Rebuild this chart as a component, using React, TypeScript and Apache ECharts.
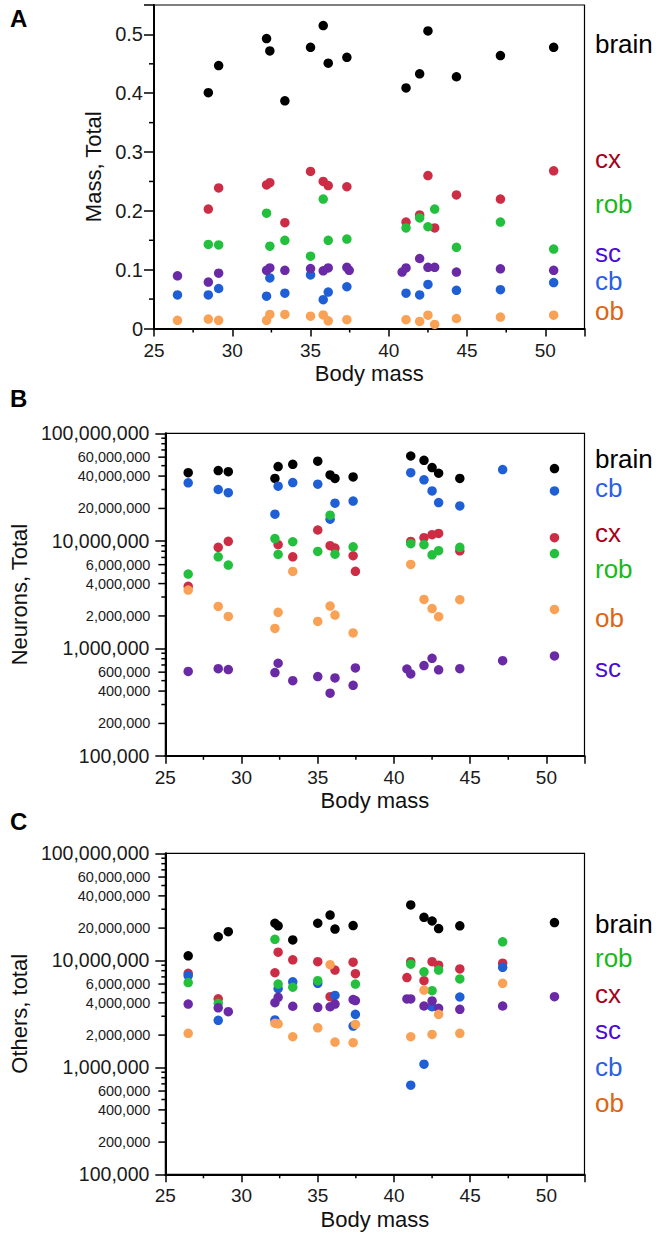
import React, { useEffect, useRef } from "react";
import * as echarts from "echarts";

// ---------- data ----------
const bodyMass = [26.5, 28.47, 29.13, 32.19, 32.4, 33.36, 35.0, 35.81, 36.13, 37.32, 37.47, 40.85, 41.1, 41.97, 42.5, 42.93, 44.32, 47.13, 50.53];

// Panel A: mass, total
const massBrain = [null, 0.401, 0.447, 0.493, 0.472, 0.387, 0.478, 0.515, 0.451, 0.461, null, null, 0.409, 0.433, 0.506, null, 0.428, 0.464, 0.478];
const massCx = [null, 0.203, 0.239, 0.244, 0.248, 0.18, 0.267, 0.25, 0.243, 0.241, null, null, 0.181, 0.193, 0.26, 0.171, 0.227, 0.22, 0.268];
const massRob = [null, 0.143, 0.142, 0.196, 0.14, 0.15, 0.123, 0.22, 0.15, 0.152, null, null, 0.171, 0.188, 0.173, 0.203, 0.138, 0.181, 0.135];
const massSc = [0.0896, 0.079, 0.094, 0.099, 0.103, 0.099, 0.102, 0.098, 0.103, 0.104, 0.099, 0.096, 0.103, 0.119, 0.104, 0.104, 0.096, 0.1015, 0.099];
const massCb = [0.057, 0.057, 0.068, 0.055, 0.086, 0.06, 0.091, 0.049, 0.062, 0.071, null, null, 0.06, 0.057, 0.075, null, 0.065, 0.066, 0.078];
const massOb = [0.014, 0.016, 0.014, 0.014, 0.024, 0.024, 0.021, 0.023, 0.013, 0.015, null, null, 0.015, 0.012, 0.0227, 0.007, 0.017, 0.0195, 0.0227];

// Panel B: neurons, total
const neuBrain = [4.3e7, 4.5e7, 4.4e7, 3.8e7, 4.9e7, 5.15e7, 5.5e7, 4.1e7, 3.8e7, 3.93e7, null, null, 6.15e7, 5.6e7, 4.8e7, 4.25e7, 3.8e7, null, 4.7e7];
const neuCb = [3.46e7, 3.0e7, 2.8e7, 1.77e7, 3.22e7, 3.48e7, 3.36e7, 1.59e7, 2.24e7, 2.34e7, null, null, 4.3e7, 3.69e7, 2.91e7, 2.27e7, 2.11e7, 4.6e7, 2.91e7];
const neuCx = [3.77e6, 8.7e6, 9.9e6, null, 9.2e6, 7.1e6, 1.26e7, 9.0e6, 8.55e6, 7.26e6, 5.2e6, null, 9.86e6, 1.07e7, 1.14e7, 1.17e7, 8.07e6, null, 1.07e7];
const neuRob = [4.9e6, 7.1e6, 5.94e6, 1.05e7, 7.47e6, 9.8e6, 7.96e6, 1.73e7, 7.5e6, 8.8e6, null, null, 9.4e6, 9.2e6, 7.4e6, 8.1e6, 8.7e6, null, 7.6e6];
const neuOb = [3.48e6, 2.45e6, 1.98e6, 1.53e6, 2.16e6, 5.19e6, 1.78e6, 2.47e6, 2.04e6, 1.39e6, null, null, 6.03e6, 2.85e6, 2.34e6, 1.97e6, 2.83e6, null, 2.3e6];
const neuSc = [6.1e5, 6.47e5, 6.34e5, 5.94e5, 7.26e5, 5.0e5, 5.46e5, 3.82e5, 5.3e5, 4.53e5, 6.56e5, 6.42e5, 5.78e5, 6.9e5, 8.07e5, 6.3e5, 6.47e5, 7.67e5, 8.5e5];

// Panel C: others, total
const othBrain = [1.1e7, 1.66e7, 1.85e7, 2.22e7, 2.1e7, 1.55e7, 2.22e7, 2.65e7, 1.96e7, 2.11e7, null, null, 3.29e7, 2.52e7, 2.33e7, 1.98e7, 2.1e7, null, 2.25e7];
const othRob = [6.2e6, 3.96e6, null, 1.57e7, 6.0e6, 5.6e6, 6.45e6, null, null, null, 6.0e6, null, 9.2e6, 7.8e6, 5.2e6, 8.1e6, 6.7e6, 1.49e7, null];
const othCx = [7.56e6, 4.37e6, null, 7.65e6, 1.19e7, 1.01e7, 9.7e6, 4.57e6, 8.1e6, 9.6e6, 7.5e6, 6.9e6, 9.7e6, 6.45e6, 9.7e6, 9.0e6, 8.3e6, 9.4e6, null];
const othSc = [3.9e6, 3.6e6, 3.31e6, 4.02e6, 4.51e6, 3.72e6, 3.64e6, 3.68e6, 3.9e6, 4.3e6, 4.2e6, 4.35e6, 4.35e6, 3.74e6, 4.17e6, 3.56e6, 3.48e6, 3.74e6, 4.57e6];
const othCb = [7.2e6, 2.75e6, null, 2.77e6, 5.43e6, 6.3e6, 6.1e6, null, 4.7e6, 2.43e6, 3.13e6, null, 6.8e5, 1.07e6, 3.68e6, null, 4.54e6, 8.6e6, null];
const othOb = [2.08e6, null, null, 2.58e6, 2.55e6, 1.93e6, 2.34e6, 9.1e6, 1.72e6, 1.7e6, 2.52e6, null, 1.93e6, 5.27e6, 2.03e6, 3.13e6, 2.08e6, 6.1e6, null];

// ticks
const bodyMinorTicks = [27.5, 32.5, 37.5, 42.5, 47.5];
const massMinorTicks = [0.05, 0.15, 0.25, 0.35, 0.45];
const logMinorTicks = [2e5, 3e5, 4e5, 5e5, 6e5, 7e5, 8e5, 9e5, 2e6, 3e6, 4e6, 5e6, 6e6, 7e6, 8e6, 9e6, 2e7, 3e7, 4e7, 5e7, 6e7, 7e7, 8e7, 9e7];
const logLabeledMinor = [2e5, 4e5, 6e5, 2e6, 4e6, 6e6, 2e7, 4e7, 6e7];

const panelLetters = ["A", "B", "C"];
const yTitles = ["Mass, Total", "Neurons, Total", "Others, total"];
const xTitle = "Body mass";

// right-hand labels (text order per panel)
const labelsA = ["brain", "cx", "rob", "sc", "cb", "ob"];
const labelsB = ["brain", "cb", "cx", "rob", "ob", "sc"];
const labelsC = ["brain", "rob", "cx", "sc", "cb", "ob"];

// ---------- styles ----------
const FONT = '"Liberation Sans", Arial, Helvetica, sans-serif';
const dotColor: Record<string, string> = {
  brain: "#000000",
  cx: "#cc2d45",
  rob: "#22c03c",
  sc: "#6a2aa6",
  cb: "#1f5fd6",
  ob: "#f9a154",
};
const labelColor: Record<string, string> = {
  brain: "#000000",
  cx: "#a8001a",
  rob: "#18b81c",
  sc: "#4a0ad6",
  cb: "#2a5fe6",
  ob: "#e06412",
};

const GRID_LEFT = 154;
const GRID_W = 430.5;
const grids = [
  { top: 5, height: 323.5 },
  { top: 433.3, height: 322.5 },
  { top: 853.3, height: 321 },
];
const labelY = [
  [44, 159, 204, 253, 281, 311],
  [459, 488, 533, 569, 618, 668],
  [924, 958, 994, 1030, 1067, 1103],
];
const letterY = [18, 398, 821];

function fmtInt(v: number) {
  return Math.round(v).toLocaleString("en-US");
}

function tickSeries(gi: number, pts: number[][], dir: "left" | "down", len: number, withLabels: boolean) {
  return {
    type: "custom",
    xAxisIndex: gi,
    yAxisIndex: gi,
    silent: true,
    clip: false,
    z: 5,
    data: pts,
    renderItem: (_p: any, api: any) => {
      const p = api.coord([api.value(0), api.value(1)]);
      const lab = api.value(2);
      const l = dir === "left" ? (lab ? 7 : len) : len;
      const children: any[] = [
        {
          type: "line",
          shape:
            dir === "left"
              ? { x1: p[0] - l, y1: p[1], x2: p[0], y2: p[1] }
              : { x1: p[0], y1: p[1], x2: p[0], y2: p[1] + l },
          style: { stroke: "#000", lineWidth: 1.5 },
        },
      ];
      if (withLabels && lab) {
        children.push({
          type: "text",
          x: p[0] - 15,
          y: p[1],
          style: {
            text: fmtInt(api.value(1)),
            align: "right",
            verticalAlign: "middle",
            font: `14.5px ${FONT}`,
            fill: "#1a1a1a",
          },
        });
      }
      return { type: "group", children };
    },
  };
}

function scatter(gi: number, name: string, vals: (number | null)[], z: number) {
  const data: number[][] = [];
  vals.forEach((v, i) => {
    if (v !== null && v !== undefined) data.push([bodyMass[i], v]);
  });
  return {
    type: "scatter",
    name,
    xAxisIndex: gi,
    yAxisIndex: gi,
    data,
    symbol: "circle",
    symbolSize: 9.5,
    itemStyle: { color: dotColor[name], opacity: 1 },
    z,
  };
}

export default function App() {
  const ref = useRef<HTMLDivElement>(null);
  useEffect(() => {
    if (!ref.current) return;
    const chart = echarts.init(ref.current, null, { renderer: "svg" });

    const xAxes = grids.map((_g, i) => ({
      gridIndex: i,
      type: "value",
      min: 25,
      max: 52.5,
      interval: 5,
      axisLine: { show: true, onZero: false, lineStyle: { color: "#000", width: 2 } },
      axisTick: { show: true, length: 8, lineStyle: { color: "#000", width: 1.5 } },
      axisLabel: {
        color: "#1a1a1a",
        fontSize: 19,
        fontFamily: FONT,
        margin: 12,
        formatter: (v: number) => (Math.abs(v / 5 - Math.round(v / 5)) < 1e-6 ? String(v) : ""),
      },
      splitLine: { show: false },
      name: xTitle,
      nameLocation: "middle",
      nameGap: 34,
      nameTextStyle: { fontSize: 22, color: "#111", fontFamily: FONT },
    }));

    const yCommon = {
      axisLine: { show: true, onZero: false, lineStyle: { color: "#000", width: 2 } },
      axisTick: { show: true, length: 10, lineStyle: { color: "#000", width: 1.5 } },
      splitLine: { show: false },
      nameLocation: "middle",
      nameTextStyle: { fontSize: 22, color: "#111", fontFamily: FONT },
    };

    const yAxes = [
      {
        ...yCommon,
        gridIndex: 0,
        type: "value",
        min: 0,
        max: 0.55,
        interval: 0.1,
        name: yTitles[0],
        nameGap: 48,
        axisLabel: {
          color: "#1a1a1a",
          fontSize: 20,
          fontFamily: FONT,
          margin: 11,
          formatter: (v: number) =>
            Math.abs(v * 10 - Math.round(v * 10)) < 1e-6 ? (v === 0 ? "0" : v.toFixed(1)) : "",
        },
      },
      ...[1, 2].map((i) => ({
        ...yCommon,
        gridIndex: i,
        type: "log",
        logBase: 10,
        min: 1e5,
        max: 1e8,
        name: yTitles[i],
        nameGap: 130,
        axisLabel: {
          color: "#1a1a1a",
          fontSize: 19.5,
          fontFamily: FONT,
          margin: 16,
          formatter: (v: number) => fmtInt(v),
        },
      })),
    ];

    const order = ["brain", "cx", "cb", "rob", "sc", "ob"];
    const panelData: Record<string, (number | null)[]>[] = [
      { brain: massBrain, cx: massCx, rob: massRob, sc: massSc, cb: massCb, ob: massOb },
      { brain: neuBrain, cx: neuCx, rob: neuRob, sc: neuSc, cb: neuCb, ob: neuOb },
      { brain: othBrain, cx: othCx, rob: othRob, sc: othSc, cb: othCb, ob: othOb },
    ];

    const series: any[] = [];
    panelData.forEach((pd, gi) => {
      order.forEach((k, j) => series.push(scatter(gi, k, pd[k], 10 + j)));
    });
    // minor ticks
    const yBottoms = [0, 1e5, 1e5];
    [0, 1, 2].forEach((gi) => {
      series.push(tickSeries(gi, bodyMinorTicks.map((v) => [v, yBottoms[gi], 0]), "down", 4, false));
    });
    series.push(tickSeries(0, massMinorTicks.map((v) => [25, v, 0]), "left", 5, false));
    [1, 2].forEach((gi) => {
      series.push(
        tickSeries(gi, logMinorTicks.map((v) => [25, v, logLabeledMinor.includes(v) ? 1 : 0]), "left", 4, true)
      );
    });

    const graphics: any[] = [];
    panelLetters.forEach((t, i) => {
      graphics.push({
        type: "text",
        x: 10,
        y: letterY[i],
        style: { text: t, font: `bold 24px ${FONT}`, fill: "#000", verticalAlign: "middle", align: "left" },
      });
    });
    [labelsA, labelsB, labelsC].forEach((labs, pi) => {
      labs.forEach((lab, j) => {
        graphics.push({
          type: "text",
          x: 595,
          y: labelY[pi][j],
          style: {
            text: lab,
            font: `26px ${FONT}`,
            fill: labelColor[lab],
            align: "left",
            verticalAlign: "middle",
          },
        });
      });
    });

    chart.setOption({
      animation: false,
      backgroundColor: "#ffffff",
      textStyle: { fontFamily: FONT },
      grid: grids.map((g) => ({
        left: GRID_LEFT,
        top: g.top,
        width: GRID_W,
        height: g.height,
        show: true,
        borderColor: "#000",
        borderWidth: 1.2,
        backgroundColor: "transparent",
      })),
      xAxis: xAxes,
      yAxis: yAxes,
      series,
      graphic: graphics,
    });

    return () => chart.dispose();
  }, []);

  return (
    <div
      ref={ref}
      style={{ position: "absolute", left: 0, top: 0, width: 661, height: 1238, background: "#fff" }}
    />
  );
}
